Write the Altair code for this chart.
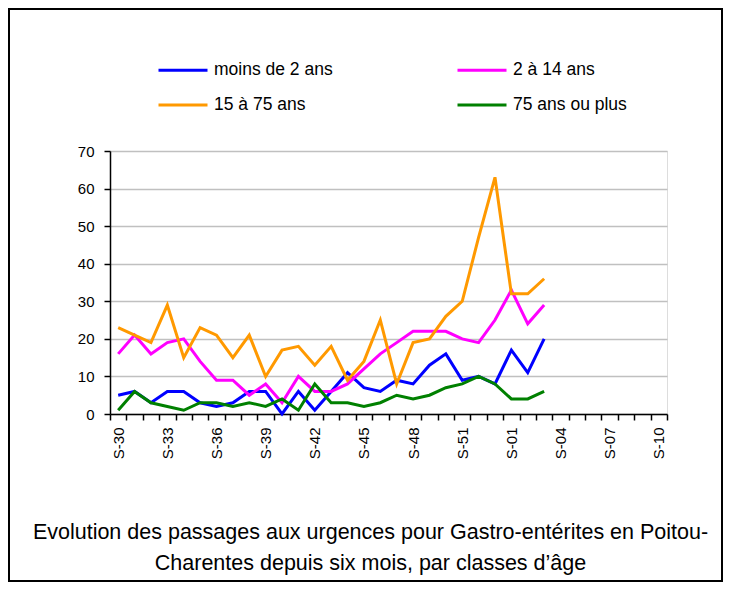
import altair as alt
import pandas as pd

weeks_all = [f"S-{w}" for w in range(30, 54)] + [f"S-{w:02d}" for w in range(1, 11)]
weeks_data = weeks_all[:27]
label_weeks = ["S-30", "S-33", "S-36", "S-39", "S-42", "S-45", "S-48", "S-51",
               "S-01", "S-04", "S-07", "S-10"]

series_names = ["moins de 2 ans", "2 à 14 ans", "15 à 75 ans", "75 ans ou plus"]
series_colors = ["#0000ff", "#ff00ff", "#ff9900", "#008000"]

moins_2 = [5, 6, 3, 6, 6, 3, 2, 3, 6, 6, 0, 6, 1, 6, 11, 7, 6, 9, 8, 13, 16, 9, 10, 8, 17, 11, 20]
de_2_14 = [16, 21, 16, 19, 20, 14, 9, 9, 5, 8, 3, 10, 6, 6, 8, 12, 16, 19, 22, 22, 22, 20, 19, 25, 33, 24, 29]
de_15_75 = [23, 21, 19, 29, 15, 23, 21, 15, 21, 10, 17, 18, 13, 18, 9, 14, 25, 8, 19, 20, 26, 30, 47, 63, 32, 32, 36]
plus_75 = [1, 6, 3, 2, 1, 3, 3, 2, 3, 2, 4, 1, 8, 3, 3, 2, 3, 5, 4, 5, 7, 8, 10, 8, 4, 4, 6]

rows = []
for name, vals in zip(series_names, [moins_2, de_2_14, de_15_75, plus_75]):
    for w, v in zip(weeks_data, vals):
        rows.append({"semaine": w, "valeur": v, "classe": name})
df = pd.DataFrame(rows)

FONT = "Liberation Sans"
W, H = 557, 263
label_list = "[" + ",".join(f"'{s}'" for s in label_weeks) + "]"

lines = alt.Chart(df).mark_line(strokeWidth=3).encode(
    x=alt.X("semaine:N",
            scale=alt.Scale(type="band", domain=weeks_all, paddingInner=0, paddingOuter=0),
            axis=alt.Axis(title=None, tickBand="extent", labelAngle=-90, tickSize=6,
                          labelPadding=7, labelFontSize=15, labelFont=FONT,
                          labelColor="black", domainColor="black", domainWidth=1.5,
                          tickColor="black", tickWidth=1.5, grid=False,
                          labelExpr=f"indexof({label_list}, datum.value) >= 0 ? datum.value : ''")),
    y=alt.Y("valeur:Q",
            scale=alt.Scale(domain=[0, 70], nice=False),
            axis=alt.Axis(title=None, values=list(range(0, 71, 10)), tickSize=6,
                          labelPadding=10, labelFontSize=15, labelFont=FONT,
                          labelColor="black", domainColor="black", domainWidth=1.5,
                          tickColor="black", tickWidth=1.5, grid=True,
                          gridColor="#c0c0c0", gridWidth=1.5)),
    color=alt.Color("classe:N",
                    scale=alt.Scale(domain=series_names, range=series_colors),
                    sort=series_names,
                    legend=alt.Legend(title=None, orient="none", legendX=47, legendY=-107,
                                      direction="horizontal",
                                      columns=2, columnPadding=118, rowPadding=0,
                                      symbolType="stroke", symbolSize=2401,
                                      symbolStrokeWidth=3, labelFontSize=17.5,
                                      labelFont=FONT, labelColor="black",
                                      labelOffset=5, padding=0)),
    order=alt.Order("classe:N"),
)

border = alt.Chart(pd.DataFrame({"a": [0]})).mark_rect(
    fill=None, stroke="black", strokeWidth=2
).encode(
    x=alt.value(-101), x2=alt.value(W + 55),
    y=alt.value(-142), y2=alt.value(H + 167),
)

chart = alt.layer(border, lines).properties(
    width=W, height=H,
    autosize=alt.AutoSizeParams(type="none"),
    padding={"left": 102, "top": 143, "right": 56, "bottom": 169},
    title=alt.Title(
        ["Evolution des passages aux urgences pour Gastro-entérites en Poitou-",
         "Charentes depuis six mois, par classes d’âge"],
        orient="bottom", anchor="middle", fontSize=21.5, fontWeight="normal",
        font=FONT, color="black", lineHeight=31, offset=-60, dx=-18,
    ),
).configure_view(stroke=None).configure(background="white")

chart.save("out.html", embed_options={"renderer": "svg", "actions": False})
